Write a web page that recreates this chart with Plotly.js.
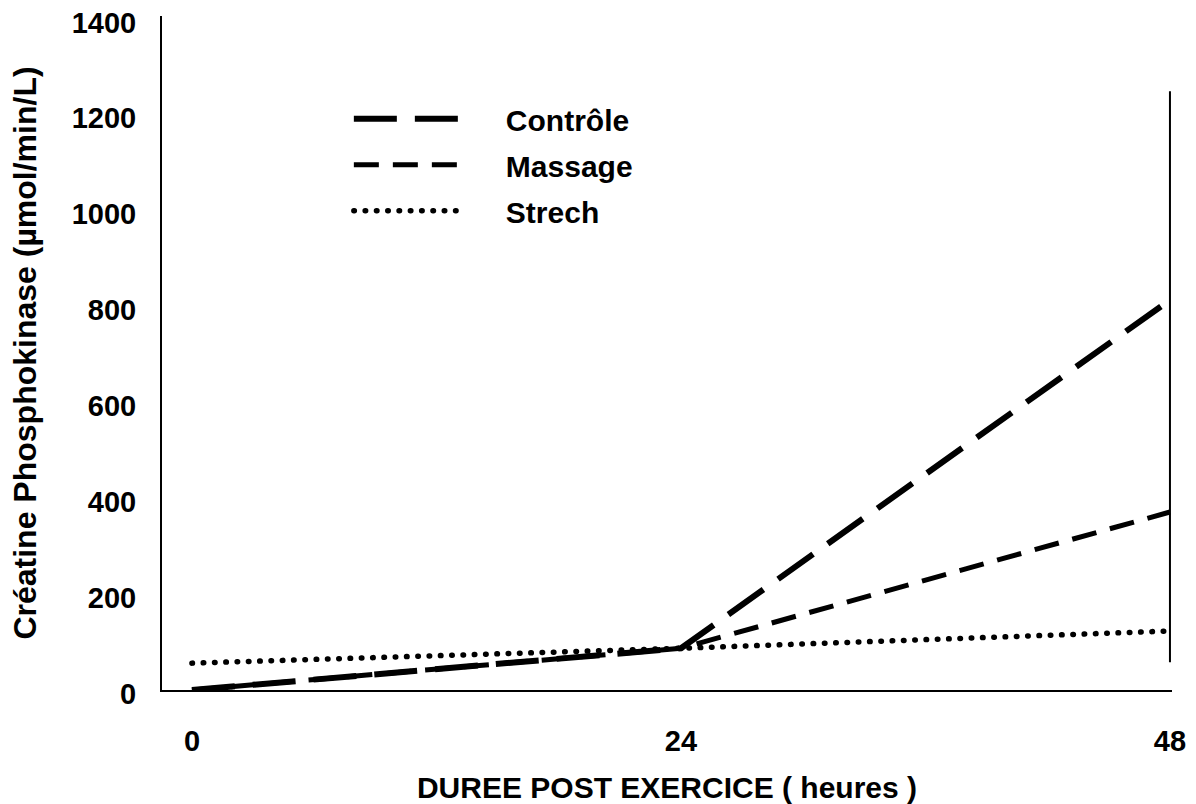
<!DOCTYPE html>
<html>
<head>
<meta charset="utf-8">
<script src="https://cdn.plot.ly/plotly-3.0.1.min.js"></script>
<style>
  html, body { margin: 0; padding: 0; background: #ffffff; }
  #chart { width: 1196px; height: 804px; }
  /* round dots for the "Strech" series (third trace) */
  #chart .scatterlayer .trace:nth-of-type(3) .js-line { stroke-linecap: round; }
</style>
</head>
<body>
<div id="chart"></div>
<script>
// ---- data ----
const hours = [0, 24, 48];
const xTickLabels = ['0', '24', '48'];
const yTickValues = [0, 200, 400, 600, 800, 1000, 1200, 1400];
const seriesNames = ['Contrôle', 'Massage', 'Strech'];
const controle = [0, 87, 813];
const massage = [0, 87, 371];
const strech = [56, 87, 123];

const FONT = 'Liberation Sans, Arial, Helvetica, sans-serif';

const traces = [
  { x: hours, y: controle, name: seriesNames[0], mode: 'lines', legendgroup: 'a',
    line: { color: '#000', width: 6, dash: '43px,18px' } },
  { x: hours, y: massage, name: seriesNames[1], mode: 'lines', legendgroup: 'b',
    line: { color: '#000', width: 5, dash: '25px,14px' } },
  { x: hours, y: strech, name: seriesNames[2], mode: 'lines', legendgroup: 'c',
    line: { color: '#000', width: 5.5, dash: '0.5px,10.8px' } }
];

const layout = {
  width: 1196, height: 804,
  paper_bgcolor: '#fff', plot_bgcolor: '#fff',
  margin: { l: 162, r: 24, t: 16, b: 114 },
  font: { family: FONT, color: '#000', size: 28, weight: 700 },
  showlegend: true,
  legend: {
    x: 0.185, y: 0.886, xanchor: 'left', yanchor: 'top',
    bgcolor: 'rgba(0,0,0,0)', itemwidth: 147, tracegroupgap: 4,
    font: { family: FONT, size: 30, color: '#000', weight: 700 },
    itemclick: false, itemdoubleclick: false
  },
  xaxis: {
    range: [-1.47, 48.1], showgrid: false, zeroline: false,
    showline: true, linecolor: '#000', linewidth: 2,
    tickmode: 'array', tickvals: hours, ticktext: xTickLabels,
    ticks: '', ticklabelstandoff: 24,
    tickfont: { family: FONT, size: 29, color: '#000', weight: 700 },
    title: { text: 'DUREE POST EXERCICE ( heures )', standoff: 22,
             font: { family: FONT, size: 30, color: '#000', weight: 700 } }
  },
  yaxis: {
    range: [0, 1405], showgrid: false, zeroline: false,
    showline: true, linecolor: '#000', linewidth: 2,
    tickmode: 'array', tickvals: yTickValues,
    ticks: '', ticklabelstandoff: 18, ticklabelshift: 4,
    tickfont: { family: FONT, size: 29, color: '#000', weight: 700 },
    title: { text: 'Créatine Phosphokinase (µmol/min/L)', standoff: 25,
             font: { family: FONT, size: 32, color: '#000', weight: 700 } }
  },
  shapes: [
    { type: 'line', xref: 'x', yref: 'y', x0: 48, x1: 48, y0: 58, y1: 1248,
      line: { color: '#000', width: 2 } }
  ]
};

Plotly.newPlot('chart', traces, layout, { staticPlot: true, displayModeBar: false }).then(function (gd) {
  // lengthen the legend line samples to match the reference
  const paths = gd.querySelectorAll('.legend .legendlines path');
  paths.forEach(function (p, i) {
    p.setAttribute('d', 'M5,0h112');
    if (i === 2) p.style.strokeLinecap = 'round';
  });
});
</script>
</body>
</html>
